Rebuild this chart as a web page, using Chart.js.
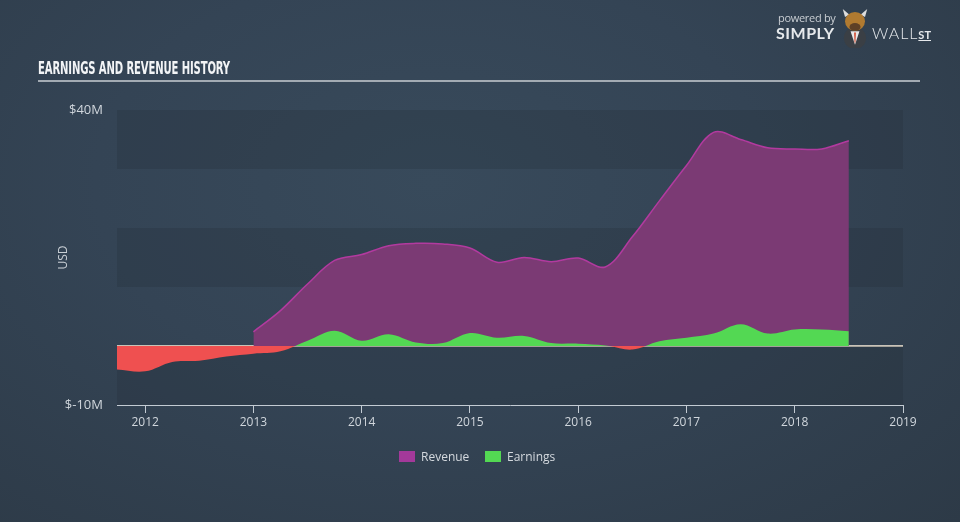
<!DOCTYPE html>
<html>
<head>
<meta charset="utf-8">
<script src="https://cdn.jsdelivr.net/npm/chart.js@4/dist/chart.umd.min.js"></script>
<style>
  html, body { margin: 0; padding: 0; }
  #wrap {
    position: relative; width: 960px; height: 522px; overflow: hidden;
    background: radial-gradient(ellipse at 45% 35%, #384a5b 0%, #344455 45%, #2d3a47 100%);
    font-family: "Open Sans", "DejaVu Sans", sans-serif;
  }
  #c { position: absolute; left: 0; top: 0; }
  #title {
    position: absolute; left: 38px; top: 58px; white-space: nowrap;
    font-family: "Liberation Sans Narrow", "DejaVu Sans Condensed", sans-serif;
    font-weight: bold; font-size: 17px; color: #f2f4f6; transform-origin: left top;
    letter-spacing: -0.2px;
  }
  #rule { position: absolute; left: 38px; top: 80px; width: 882px; height: 2px; background: #a3abb3; }
  #logo { position: absolute; left: 776px; top: 10px; color: #e6e9ec; }
  #logo .pb { position: absolute; left: 2px; top: 0; font-size: 11px; color: #c9ced3; white-space: nowrap; letter-spacing: -0.3px; }
  #logo .s { position: absolute; left: 0; top: 13px; font-size: 16px; font-weight: bold; white-space: nowrap; font-family: "Lato", "Open Sans", sans-serif; letter-spacing: 0.5px; }
  #logo .w { position: absolute; left: 96px; top: 13px; font-size: 16px; font-weight: 300; white-space: nowrap; font-family: "Lato", "Open Sans", sans-serif; letter-spacing: 1px; }
  #logo .st { font-size: 11px; font-weight: bold; text-decoration: underline; letter-spacing: 0; }
  #bull { position: absolute; left: 62px; top: -2px; display: block; }
  #legend { position: absolute; top: 448px; left: 0; width: 960px; font-size: 12px; color: #d4d9de; }
  .li { position: absolute; top: 0; white-space: nowrap; line-height: 17px; }
  .sw { display: inline-block; width: 16px; height: 11px; vertical-align: -1px; margin-right: 6px; }
</style>
</head>
<body>
<div id="wrap">
  <canvas id="c" width="960" height="522"></canvas>
  <div id="title">EARNINGS AND REVENUE HISTORY</div>
  <div id="rule"></div>
  <div id="logo">
    <span class="pb">powered by</span>
    <span class="s">SIMPLY</span>
    <svg id="bull" width="34" height="40" viewBox="0 0 30 36">
      <circle cx="15" cy="27" r="10" fill="#3a3f45"/>
      <path d="M11 21 L15 33 L19 21 Z" fill="#e8e8e8"/>
      <path d="M14.2 22 L15.8 22 L15.4 31 L14.6 31 Z" fill="#d0482e"/>
      <path d="M6 8 L4 1 L10 6 Z M24 8 L26 1 L20 6 Z" fill="#ddd"/>
      <ellipse cx="15" cy="12" rx="9" ry="8.5" fill="#b07a30"/>
      <ellipse cx="15" cy="17" rx="5" ry="3.5" fill="#5e4026"/>
    </svg>
    <span class="w">WALL<span class="st">ST</span></span>
  </div>
  <div id="legend">
    <div class="li" style="left:399px"><span class="sw" style="background:#a3399a"></span>Revenue</div>
    <div class="li" style="left:485px"><span class="sw" style="background:#53d853"></span>Earnings</div>
  </div>
</div>
<script>
// ---- data (values in $M, x in decimal years) ----
const revenueX = [2013.0, 2013.25, 2013.5, 2013.75, 2014.0, 2014.25, 2014.5, 2014.75, 2015.0, 2015.25, 2015.5, 2015.75, 2016.0, 2016.25, 2016.5, 2016.75, 2017.0, 2017.25, 2017.5, 2017.75, 2018.0, 2018.25, 2018.5];
const revenueY = [2.4, 6.0, 10.5, 14.5, 15.5, 17.0, 17.4, 17.3, 16.6, 14.2, 15.0, 14.3, 14.9, 13.4, 18.5, 24.6, 30.6, 36.2, 35.0, 33.6, 33.4, 33.4, 34.8];
const earningsX = [2011.74, 2012.0, 2012.25, 2012.5, 2012.75, 2013.0, 2013.25, 2013.5, 2013.75, 2014.0, 2014.25, 2014.5, 2014.75, 2015.0, 2015.25, 2015.5, 2015.75, 2016.0, 2016.25, 2016.5, 2016.75, 2017.0, 2017.25, 2017.5, 2017.75, 2018.0, 2018.25, 2018.5];
const earningsY = [-4.0, -4.3, -2.7, -2.5, -1.8, -1.3, -0.9, 0.9, 2.6, 0.9, 2.0, 0.6, 0.5, 2.2, 1.4, 1.7, 0.5, 0.4, 0.1, -0.6, 0.8, 1.4, 2.1, 3.7, 2.1, 2.8, 2.8, 2.5];
const yearTicks = [2012, 2013, 2014, 2015, 2016, 2017, 2018, 2019];
const valueTicks = [-10, 0, 10, 20, 30, 40];
const labeledTicks = {40: '$40M', '-10': '$-10M'};
const xMin = 2011.74, xMax = 2019.0;

// fit title width
const t = document.getElementById('title');
const tw = t.getBoundingClientRect().width;
t.style.transform = 'scaleX(' + (192 / tw) + ')';

const bands = {
  id: 'bands',
  beforeDatasetsDraw(chart) {
    const { ctx, chartArea: a, scales: { y } } = chart;
    ctx.save();
    ctx.fillStyle = 'rgba(30,40,52,0.22)';
    [[30, 40], [10, 20], [-10, 0]].forEach(([lo, hi]) => {
      const top = y.getPixelForValue(hi), bot = y.getPixelForValue(lo);
      ctx.fillRect(a.left, top, a.right - a.left, bot - top);
    });
    ctx.restore();
  }
};

const tickFont = { family: '"Open Sans", sans-serif', size: 12 };
new Chart(document.getElementById('c'), {
  type: 'line',
  data: {
    datasets: [
      {
        label: 'Revenue', order: 2,
        data: revenueX.map((x, i) => ({ x, y: revenueY[i] })),
        borderColor: '#b23a9f', borderWidth: 1.5,
        backgroundColor: '#7b3a74',
        fill: 'origin', pointRadius: 0, tension: 0.35
      },
      {
        label: 'Earnings', order: 1,
        data: earningsX.map((x, i) => ({ x, y: earningsY[i] })),
        borderWidth: 0, borderColor: 'rgba(0,0,0,0)',
        backgroundColor: '#53d853',
        fill: { target: 'origin', above: '#53d853', below: '#ef5050' },
        pointRadius: 0, tension: 0.35
      }
    ]
  },
  plugins: [bands],
  options: {
    responsive: false, animation: false,
    layout: { padding: { left: 56, right: 57, top: 110, bottom: 0 } },
    plugins: { legend: { display: false }, tooltip: { enabled: false } },
    scales: {
      x: {
        type: 'linear', min: xMin, max: xMax,
        afterBuildTicks(s) { s.ticks = yearTicks.map(v => ({ value: v })); },
        afterFit(s) { s.height = 117; },
        ticks: { color: '#d0d6dc', font: tickFont, padding: 2, maxRotation: 0, callback: v => String(v) },
        grid: { drawOnChartArea: false, drawTicks: true, tickLength: 8, color: '#c3cbd3' },
        border: { display: true, color: '#c3cbd3', width: 1 }
      },
      y: {
        min: -10, max: 40,
        afterBuildTicks(s) { s.ticks = valueTicks.map(v => ({ value: v })); },
        afterFit(s) { s.width = 61; },
        ticks: { color: '#d0d6dc', font: { family: '"Open Sans", sans-serif', size: 13 }, padding: 14,
                 callback: v => labeledTicks[v] || '' },
        grid: { drawTicks: false, color: c => c.tick && c.tick.value === 0 ? '#c9c3b8' : 'rgba(0,0,0,0)', lineWidth: 2 },
        border: { display: false },
        title: { display: true, text: 'USD', color: '#c9cfd5', font: { family: '"Open Sans", sans-serif', size: 12 }, padding: 0 }
      }
    }
  }
});
</script>
</body>
</html>
